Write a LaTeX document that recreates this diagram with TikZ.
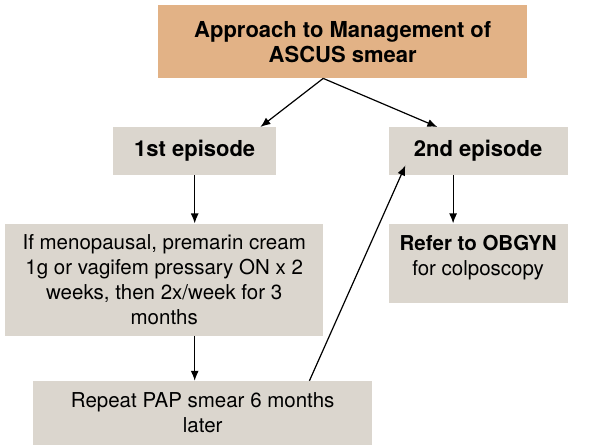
\documentclass[tikz,border=0pt]{standalone}
\usepackage{fontspec}
\setmainfont{TeX Gyre Heros}
\usetikzlibrary{arrows.meta,positioning}

\definecolor{tan}{RGB}{226,178,134}
\definecolor{stone}{RGB}{219,214,206}

\begin{document}
\begin{tikzpicture}[
		x=1pt, y=-1pt,
		node distance=48pt,
		arrow/.style={-{Latex[length=10pt,width=8pt]}, line width=1.2pt},
		block/.style={fill=stone, inner sep=4pt, align=center, font=\fontsize{20.5}{25}\selectfont},
		bold/.style={font=\fontsize{22}{25}\selectfont\bfseries},
	]
		\useasboundingbox (0,0) rectangle (591,444);

		\node (title) [block, bold, fill=tan, anchor=north west, minimum width=369pt, minimum height=73pt] at (158,5) {Approach to Management of\\ASCUS smear};
		\node (first) [block, bold, anchor=north west, minimum width=163pt, minimum height=48pt] at (113,127) {1st episode};
		\node (second) [block, bold, right=112pt of first, minimum width=179pt, minimum height=48pt] {2nd episode};
		\node (advice) [block, below=48pt of first, xshift=-30.5pt, minimum width=318pt, minimum height=112pt] {If menopausal, premarin cream\\1g or vagifem pressary ON x 2\\weeks, then 2x/week for 3\\months};
		\node (repeat) [block, below=45pt of advice, xshift=38.5pt, minimum width=339pt, minimum height=64pt] {Repeat PAP smear 6 months\\later};
		\node (refer) [block, below=48pt of second, minimum width=179pt, minimum height=79pt] {\textbf{Refer to OBGYN}\\for colposcopy\\[-10pt]};
		\coordinate (back) at ([shift={(17pt,10pt)}]second.south west);

		\draw[arrow] ([xshift=-19.5pt]title.south) -- ([xshift=-16pt]first.north east);
		\draw[arrow] ([xshift=-19.5pt]title.south) -- ([xshift=49pt]second.north west);
		\draw[arrow] (first.south) -- (first.south |- advice.north);
		\draw[arrow] (first |- advice.south) -- (first |- repeat.north);
		\draw[arrow] ([xshift=-63pt]repeat.north east) -- (back);
		\draw[arrow] ([xshift=-25pt]second.south) -- ([xshift=-25pt]second.south |- refer.north);
	\end{tikzpicture}
\end{document}
